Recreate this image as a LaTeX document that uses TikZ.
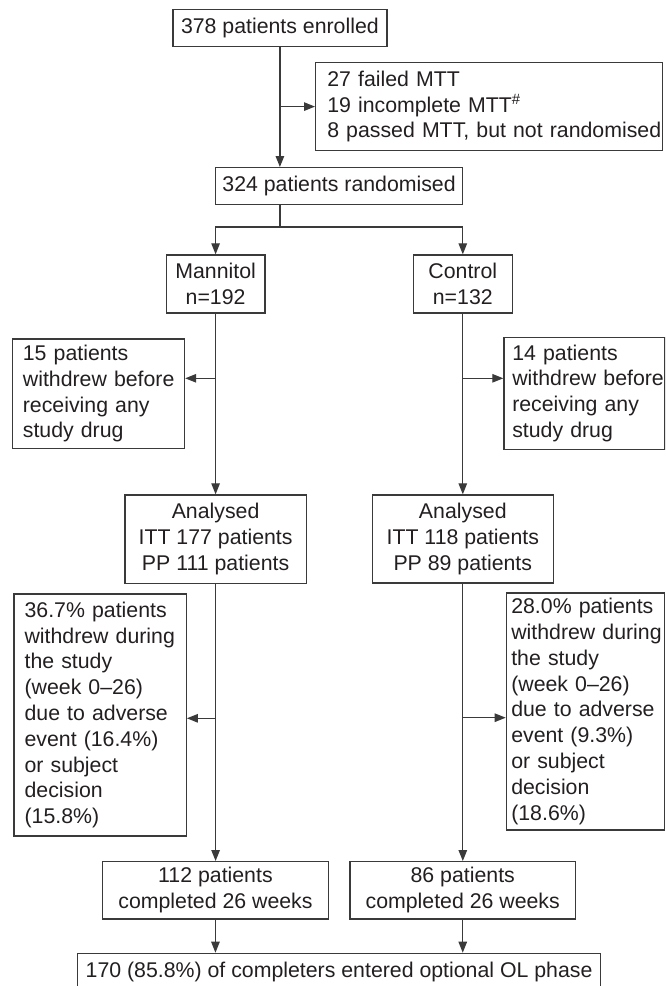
\documentclass[tikz,border=0pt]{standalone}
\usepackage{fontspec}
\setmainfont{Liberation Sans}
\usetikzlibrary{arrows.meta}
\definecolor{ink}{HTML}{231F20}
\definecolor{edge}{HTML}{3A3A3A}
\newcommand\oneline[1]{\mbox{#1}}
\begin{document}
\begin{tikzpicture}[x=1pt,y=-1pt,
  box/.style={draw=edge, line width=1.2pt, inner sep=0pt, anchor=north west,
    text=ink, font=\fontsize{21.3}{25.8}\selectfont, align=center},
  lbox/.style={box, align=left},
  con/.style={draw=edge, line width=1.2pt},
  arr/.style={con, -{Triangle[length=11pt,width=8.5pt]}}]
\useasboundingbox (0,0) rectangle (665,986);
\clip (0,0) rectangle (665,986);

\node[box, minimum width=214pt, minimum height=37pt] (enr) at (172.3,9) {378 patients enrolled};
\node[lbox, inner xsep=11.7pt, text width=323.6pt, minimum height=88pt] (mtt) at (315,62)
  {\oneline{27 failed MTT}\\\oneline{19 incomplete MTT\textsuperscript{\#}}\\\oneline{8 passed MTT, but not randomised}};
\node[box, minimum width=247pt, minimum height=37pt] (rand) at (215,167) {324 patients randomised};
\node[box, minimum width=98.6pt, minimum height=58pt] (man) at (165.7,254.3) {Mannitol\\n=192};
\node[box, minimum width=99pt, minimum height=58pt] (ctl) at (412.7,254.3) {Control\\n=132};
\node[lbox, inner xsep=10.6pt, text width=151.1pt, minimum height=109.4pt] (wl1) at (11.7,338.3)
  {\oneline{15 patients}\\\oneline{withdrew before}\\\oneline{receiving any}\\\oneline{study drug}};
\node[lbox, inner xsep=8.4pt, text width=144.2pt, minimum height=112pt] (wr1) at (503.3,336.7)
  {\oneline{14 patients}\\\oneline{withdrew before}\\\oneline{receiving any}\\\oneline{study drug}};
\node[box, minimum width=181.4pt, minimum height=88.2pt] (anl) at (124.3,494.3) {Analysed\\ITT 177 patients\\PP 111 patients};
\node[box, minimum width=181pt, minimum height=88pt] (anr) at (371.7,494.3) {Analysed\\ITT 118 patients\\PP 89 patients};
\node[lbox, inner xsep=10.7pt, text width=151pt, minimum height=242pt] (wl2) at (13.3,593.3)
  {\oneline{36.7\% patients}\\\oneline{withdrew during}\\\oneline{the study}\\\oneline{(week 0\textendash 26)}\\\oneline{due to adverse}\\\oneline{event (16.4\%)}\\\oneline{or subject}\\\oneline{decision}\\\oneline{(15.8\%)}};
\node[lbox, inner xsep=5pt, text width=148.5pt, minimum height=237pt] (wr2) at (505.7,592.3)
  {\oneline{28.0\% patients}\\\oneline{withdrew during}\\\oneline{the study}\\\oneline{(week 0\textendash 26)}\\\oneline{due to adverse}\\\oneline{event (9.3\%)}\\\oneline{or subject}\\\oneline{decision}\\\oneline{(18.6\%)}};
\node[box, minimum width=225.7pt, minimum height=57.3pt] (cl) at (102,861) {112 patients\\completed 26 weeks};
\node[box, minimum width=225.7pt, minimum height=57.3pt] (cr) at (349.3,861) {86 patients\\completed 26 weeks};
\node[box, minimum width=523pt, minimum height=38pt] (ol) at (77,952.7) {170 (85.8\%) of completers entered optional OL phase};

% top
\draw[arr] (enr.south) -- (enr.south |- rand.north);
\draw[arr] (enr.south |- mtt.west) -- (mtt.west);
% randomisation split
\coordinate (split) at (enr.south |- 0,227);
\draw[con] (enr.south |- rand.south) -- (split);
\draw[arr] (split) -| (man.north);
\draw[arr] (split) -| (ctl.north);
% arms
\draw[arr] (man.south) -- (anl.north);
\draw[arr] (ctl.south) -- (anr.north);
\coordinate (bl1) at (man.south |- 0,378.3);
\coordinate (br1) at (ctl.south |- 0,378.3);
\draw[arr] (bl1) -- (bl1 -| wl1.east);
\draw[arr] (br1) -- (br1 -| wr1.west);
\draw[arr] (anl.south) -- (anl.south |- cl.north);
\draw[arr] (anr.south) -- (anr.south |- cr.north);
\coordinate (bl2) at (anl.south |- 0,718.3);
\coordinate (br2) at (anr.south |- 0,717.7);
\draw[arr] (bl2) -- (bl2 -| wl2.east);
\draw[arr] (br2) -- (br2 -| wr2.west);
\draw[arr] (cl.south) -- (cl.south |- ol.north);
\draw[arr] (cr.south) -- (cr.south |- ol.north);
\end{tikzpicture}
\end{document}
